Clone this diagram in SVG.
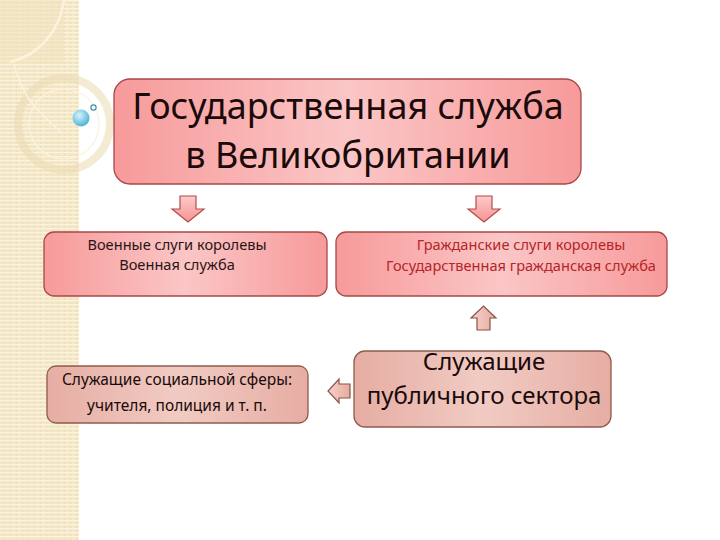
<svg xmlns="http://www.w3.org/2000/svg" width="720" height="540" viewBox="0 0 720 540">
<defs>
<pattern id="stripes" width="6" height="4" patternUnits="userSpaceOnUse">
<rect width="6" height="4" fill="#F3E7C6"/>
<rect y="0" width="6" height="1.2" fill="#FBF4E2"/>
<rect x="4" y="2" width="1" height="2" fill="#EDDDB4"/>
</pattern>
<linearGradient id="redG" x1="0" y1="0" x2="1" y2="0">
<stop offset="0" stop-color="#F79A9A"/>
<stop offset="0.5" stop-color="#FBC6C6"/>
<stop offset="1" stop-color="#F79A9A"/>
</linearGradient>
<linearGradient id="brownG" x1="0" y1="0" x2="1" y2="0">
<stop offset="0" stop-color="#E6ADA3"/>
<stop offset="0.5" stop-color="#F1CBC3"/>
<stop offset="1" stop-color="#E6ADA3"/>
</linearGradient>
<linearGradient id="arrowRed" x1="0" y1="0" x2="0" y2="1">
<stop offset="0" stop-color="#FCCACA"/>
<stop offset="1" stop-color="#F69393"/>
</linearGradient>
<linearGradient id="arrowBrown" x1="0" y1="0" x2="1" y2="0">
<stop offset="0" stop-color="#F6D2CB"/>
<stop offset="1" stop-color="#E7ABA0"/>
</linearGradient>
<radialGradient id="ball" cx="0.4" cy="0.35" r="0.7">
<stop offset="0" stop-color="#D8F2FB"/>
<stop offset="0.6" stop-color="#7FCBE6"/>
<stop offset="1" stop-color="#4EA9CC"/>
</radialGradient>
</defs>
<style>
.box-red{fill:url(#redG);stroke:#A8474A;stroke-width:1.3}
.box-brown{fill:url(#brownG);stroke:#8F5B4D;stroke-width:1.3}
.t{font-family:"Noto Sans","Open Sans","DejaVu Sans",sans-serif;text-anchor:middle}
.arr-red{fill:url(#arrowRed);stroke:#B24B4B;stroke-width:1.2}
.arr-brown{fill:url(#arrowBrown);stroke:#8A5444;stroke-width:1.2}
</style>
<rect width="720" height="540" fill="#FFFFFF"/>
<g id="decor">
<rect x="0" y="0" width="79" height="540" fill="url(#stripes)"/>
<rect x="0" y="0" width="64" height="63" fill="#F0E2BC" opacity="0.5"/>
<path d="M64 0 C60 30 40 55 10 62" fill="none" stroke="#FBF3DE" stroke-width="2.5"/>
<circle cx="64" cy="124" r="46" fill="none" stroke="#EBDBB2" stroke-width="8" opacity="0.55"/>
<circle cx="64" cy="124" r="35" fill="none" stroke="#FBF3DE" stroke-width="1.2"/>
<path d="M14 64 C20 90 30 105 62 133" fill="none" stroke="#FBF3DE" stroke-width="1.5"/>
<circle cx="81" cy="118" r="8.5" fill="url(#ball)"/>
<circle cx="93.5" cy="107.5" r="2.6" fill="#FFFFFF" stroke="#3B8FB0" stroke-width="1.2"/>
</g>
<g id="connectors">
<path class="arr-red" d="M180 196 H196 V209 H204 L188 222 L172 209 H180 Z"/>
<path class="arr-red" d="M476 196 H492 V209 H500 L484 222 L468 209 H476 Z"/>
<path class="arr-brown" d="M477 330 H490 V318 H496 L483.5 306 L471 318 H477 Z"/>
<path class="arr-brown" d="M350 384 V398 H339 V403 L328 391 L339 379 V384 Z"/>
</g>
<g id="node-main">
<rect class="box-red" x="114" y="79" width="467" height="105" rx="16"/>
<text class="t" x="348" y="119" font-size="36" fill="#1A0A0A">Государственная служба</text>
<text class="t" x="348" y="168" font-size="36" fill="#1A0A0A">в Великобритании</text>
</g>
<g id="node-military">
<rect class="box-red" x="44" y="232" width="283" height="64" rx="10"/>
<text class="t" x="177" y="250" font-size="14.6" fill="#2A1414">Военные слуги королевы</text>
<text class="t" x="177" y="270" font-size="14.6" fill="#2A1414">Военная служба</text>
</g>
<g id="node-civil">
<rect class="box-red" x="336" y="232" width="331" height="64" rx="10"/>
<text class="t" x="521" y="250" font-size="14.6" fill="#B5252A">Гражданские слуги королевы</text>
<text class="t" x="521" y="271" font-size="14.6" fill="#B5252A">Государственная гражданская служба</text>
</g>
<g id="node-public">
<rect class="box-brown" x="354" y="351" width="257" height="76" rx="11"/>
<text class="t" x="484" y="370" font-size="24" fill="#1A0A0A">Служащие</text>
<text class="t" x="484" y="404" font-size="24" fill="#1A0A0A">публичного сектора</text>
</g>
<g id="node-social">
<rect class="box-brown" x="47" y="366" width="261" height="57" rx="9"/>
<text class="t" x="177" y="385" font-size="15.5" fill="#1A0A0A">Служащие социальной сферы:</text>
<text class="t" x="177" y="411" font-size="15.5" fill="#1A0A0A">учителя, полиция и т. п.</text>
</g>
</svg>
